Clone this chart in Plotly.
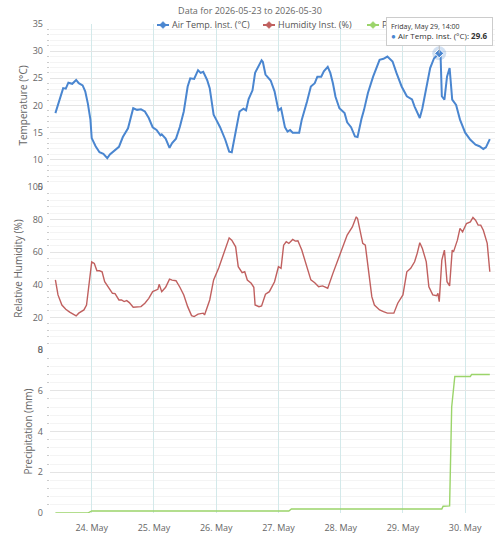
import pandas as pd
import plotly.graph_objects as go
from plotly.subplots import make_subplots

# ---------------- data (hours since 2026-05-23 00:00) ----------------
BASE = pd.Timestamp("2026-05-23 00:00")

temp_hours = [10, 11.5, 13, 14, 15, 16.5, 18, 19, 20.5, 21.5, 22.5, 23.5, 24, 25.5, 27, 28.5, 30, 31,
              33, 34.5, 36, 38, 40, 41.5, 43, 44.5, 46, 47.5, 49, 50.5, 51, 52.5, 54, 55, 56.5, 58,
              59.5, 61, 62, 63.5, 65, 66, 67, 68.5, 69.5, 71, 72, 73.5, 75.5, 77, 78, 79.5, 81, 82.5,
              83.5, 84.5, 86, 87, 88, 89.5, 90, 91, 93, 94.5, 96, 97, 98.5, 99.5, 100.5, 101.5, 104,
              105, 107, 108.5, 110, 111, 112.5, 113.5, 115, 116, 117, 118, 119.5, 121.5, 122.5, 124,
              125.5, 126.5, 128, 129, 130.5, 132.5, 135, 136.5, 138, 140, 141.5, 143.5, 145.5, 147.5,
              148.5, 150.5, 151.5, 153, 154.5, 156, 158, 158.5, 159, 160, 161, 162, 163, 164.5, 166,
              168, 170, 172, 173.5, 175, 176, 177.5]
temp_values = [18.6, 20.7, 23.2, 23.1, 24.2, 24.0, 24.7, 24.1, 23.7, 22.6, 20.4, 17.4, 14.0, 12.5, 11.4,
               11.1, 10.3, 11.0, 11.8, 12.4, 14.2, 15.8, 19.5, 19.2, 19.3, 18.9, 17.7, 16.0, 15.5, 14.5,
               14.7, 13.9, 12.2, 13.1, 13.9, 16.1, 18.9, 23.5, 25.0, 24.9, 26.5, 26.0, 26.2, 24.7, 23.2,
               18.3, 17.4, 16.0, 13.7, 11.5, 11.4, 14.9, 18.9, 19.4, 19.1, 21.2, 22.8, 26.0, 26.9, 28.3,
               28.0, 25.7, 24.6, 22.6, 19.1, 19.5, 16.0, 15.2, 15.5, 15.0, 15.0, 17.4, 20.7, 23.5, 24.1,
               25.3, 25.3, 26.3, 27.1, 26.0, 24.1, 21.6, 19.5, 18.6, 16.9, 16.0, 14.3, 14.2, 17.5, 19.2,
               22.3, 25.3, 28.4, 28.6, 29.0, 28.1, 26.0, 23.5, 21.7, 21.1, 19.8, 17.7, 19.5, 23.5, 26.9,
               28.7, 29.6, 29.4, 21.7, 21.1, 25.3, 26.9, 21.1, 20.1, 17.4, 15.0, 13.7, 12.8, 12.5, 12.0,
               12.3, 13.8]

hum_hours = [10, 11, 12.5, 14, 15.5, 18, 19, 21, 22, 23, 24, 25, 26, 27, 28, 29, 30.5, 32, 33, 34.5,
             35.5, 36.5, 37.5, 38.5, 40, 41.5, 43, 44.5, 46, 47.5, 49.5, 50, 51, 52.5, 54, 55, 56.5,
             58, 59.5, 61, 62.5, 63.5, 65, 67, 67.5, 69.5, 71, 73, 75, 77, 78, 79.5, 80.5, 82, 83, 84,
             85.5, 86.5, 87, 88.5, 89.5, 91, 92.5, 94.5, 96, 97, 98, 99, 100, 101.5, 102.5, 103.5, 105,
             107, 108.5, 110, 111.5, 113, 114, 115, 117, 119, 121, 122.5, 124.5, 126, 126.5, 127.5,
             128.5, 129.5, 130.5, 132, 133, 135, 136.5, 138, 140.5, 142, 144, 145.5, 147, 148.5, 149.5,
             150.5, 151.5, 153, 154, 155.5, 157, 157.5, 158, 159, 160, 161, 162, 163, 163.5, 165, 166,
             167, 168.5, 170, 171, 172, 173, 174, 175, 176.5, 177.5]
hum_values = [43.0, 33.8, 27.6, 25.0, 23.2, 20.9, 22.6, 24.6, 27.6, 41.9, 54.1, 53.1, 48.6, 48.6, 48.0,
              41.9, 38.5, 34.8, 34.6, 30.7, 30.7, 29.7, 30.3, 29.1, 26.2, 26.6, 26.6, 28.7, 31.7, 35.8,
              37.2, 40.3, 35.8, 38.5, 43.5, 42.9, 42.5, 38.5, 33.8, 26.6, 21.1, 20.5, 22.0, 22.6, 21.5,
              30.7, 43.0, 50.5, 59.3, 68.8, 67.4, 63.3, 51.1, 47.4, 48.0, 42.9, 40.9, 38.5, 27.6, 26.6,
              27.0, 34.2, 35.8, 41.9, 51.1, 50.1, 64.3, 66.4, 65.4, 67.8, 66.8, 67.0, 61.3, 50.1, 43.0,
              41.3, 38.8, 39.3, 38.5, 37.9, 47.0, 55.2, 63.3, 70.5, 75.5, 81.7, 80.7, 73.0, 65.4, 64.3,
              51.1, 32.7, 27.6, 24.6, 23.5, 22.6, 22.6, 28.7, 33.8, 48.0, 50.1, 54.1, 59.3, 65.8, 62.3,
              54.1, 38.8, 33.8, 33.3, 34.8, 29.7, 55.2, 61.3, 41.9, 39.3, 61.3, 60.2, 67.4, 74.6, 72.5,
              77.6, 78.6, 81.3, 79.6, 76.6, 76.6, 73.5, 65.4, 48.0]

precip_hours = [10, 22.5, 24, 100, 101, 159, 159.5, 162, 162.8, 164, 170, 170.5, 177.5]
precip_values = [0, 0, 0.1, 0.1, 0.2, 0.2, 0.33, 0.35, 5.2, 6.7, 6.7, 6.8, 6.8]

series_names = ["Air Temp. Inst. (°C)", "Humidity Inst. (%)", "Precipitation (mm)"]
hover_hour = 158  # Friday, May 29, 14:00

BLUE = "#4a86d0"
RED = "#c0605f"
GREEN = "#9bd46a"
GRAY = "#666666"
FONT = "Open Sans"

W, H = 500, 545
ML, MR, MT, MB = 50, 5, 24, 32
PW, PH = W - ML - MR, H - MT - MB


def to_time(hours):
    return [BASE + pd.Timedelta(hours=h) for h in hours]


def px(x):  # page pixel -> paper x
    return (x - ML) / PW


def py(y):  # page pixel -> paper y
    return 1 - (y - MT) / PH


fig = make_subplots(rows=3, cols=1, shared_xaxes=True, vertical_spacing=0)

fig.add_trace(go.Scatter(x=to_time(temp_hours), y=temp_values, mode="lines", name=series_names[0],
                         line=dict(color=BLUE, width=2), showlegend=False, hoverinfo="skip"), 1, 1)
fig.add_trace(go.Scatter(x=to_time(hum_hours), y=hum_values, mode="lines", name=series_names[1],
                         line=dict(color=RED, width=1.4), showlegend=False, hoverinfo="skip"), 2, 1)
fig.add_trace(go.Scatter(x=to_time(precip_hours), y=precip_values, mode="lines", name=series_names[2],
                         line=dict(color=GREEN, width=1.4), showlegend=False, hoverinfo="skip"), 3, 1)

# hovered point
idx = temp_hours.index(hover_hour)
hx = to_time([temp_hours[idx]])
hy = [temp_values[idx]]
fig.add_trace(go.Scatter(x=hx, y=hy, mode="markers", showlegend=False, hoverinfo="skip",
                         marker=dict(size=14, color="rgba(74,134,208,0.25)")), 1, 1)
fig.add_trace(go.Scatter(x=hx, y=hy, mode="markers", showlegend=False, hoverinfo="skip",
                         marker=dict(symbol="diamond", size=7, color=BLUE,
                                     line=dict(color="white", width=1))), 1, 1)

# manual legend (Highcharts-like compact items)
legend_x = [157, 263, 367]
legend_y = 25
for name, color, lx in zip(series_names, [BLUE, RED, GREEN], legend_x):
    fig.add_shape(type="line", xref="paper", yref="paper",
                  x0=px(lx), x1=px(lx + 12), y0=py(legend_y), y1=py(legend_y),
                  line=dict(color=color, width=2), layer="above")
    cx, r = lx + 6, 3.5
    path = (f"M {px(cx)},{py(legend_y - r)} L {px(cx + r)},{py(legend_y)} "
            f"L {px(cx)},{py(legend_y + r)} L {px(cx - r)},{py(legend_y)} Z")
    fig.add_shape(type="path", xref="paper", yref="paper", path=path,
                  fillcolor=color, line=dict(color=color, width=0.5), layer="above")
    fig.add_annotation(x=px(lx + 13), y=py(legend_y), xref="paper", yref="paper",
                       text=name, showarrow=False, xanchor="left", yanchor="middle",
                       font=dict(family=FONT, size=9, color="#555555"))

# tooltip
fig.add_annotation(
    x=hx[0], y=hy[0], xref="x", yref="y",
    text=("<span style='font-size:7px;color:#333'>Friday, May 29, 14:00</span><br>"
          f"<span style='color:{BLUE}'>●</span> {series_names[0]}: <b>{hy[0]:.1f}</b>"),
    showarrow=True, arrowhead=0, arrowwidth=1, arrowcolor="#bbbbbb",
    ax=0, ay=-22, align="left",
    bgcolor="rgb(255,255,255)", bordercolor="#cccccc", borderwidth=1, borderpad=4,
    font=dict(family=FONT, size=8, color="#333333"),
)

# axes
minor_common = dict(showgrid=True, gridcolor="#f4f4f4", ticks="outside", ticklen=2,
                    tickcolor="#cccccc")
fig.update_yaxes(range=[5, 35], dtick=5, row=1, col=1,
                 title_text="Temperature (°C)", minor=dict(dtick=1, **minor_common))
fig.update_yaxes(range=[0, 100], dtick=20, row=2, col=1,
                 title_text="Relative Humidity (%)", minor=dict(dtick=4, **minor_common))
fig.update_yaxes(range=[0, 8], dtick=2, row=3, col=1,
                 title_text="Precipitation (mm)", minor=dict(dtick=0.4, **minor_common))
fig.update_yaxes(showgrid=True, gridcolor="#e4e4e4", zeroline=False, showline=False,
                 tickfont=dict(family=FONT, size=9, color=GRAY), ticklabelstandoff=6,
                 title_font=dict(family=FONT, size=10, color=GRAY), title_standoff=3, ticks="")
fig.update_xaxes(type="date", range=["2026-05-23 07:55", "2026-05-30 11:30"],
                 tick0="2026-05-24", dtick=86400000, tickformat="%-d. %b",
                 showgrid=True, gridcolor="#d3e9ea", zeroline=False, showline=False,
                 tickfont=dict(family=FONT, size=9, color=GRAY), ticklabelstandoff=8, ticks="")

fig.update_layout(
    width=W, height=H,
    margin=dict(l=ML, r=MR, t=MT, b=MB, autoexpand=False),
    paper_bgcolor="white", plot_bgcolor="white",
    font=dict(family=FONT, size=9, color=GRAY),
    title=dict(text="Data for 2026-05-23 to 2026-05-30", x=px(250), xref="paper",
               y=1 - 11 / H, yanchor="middle", xanchor="center",
               font=dict(family=FONT, size=9, color=GRAY)),
    showlegend=False,
    hovermode=False,
)

fig.write_html("out.html")
